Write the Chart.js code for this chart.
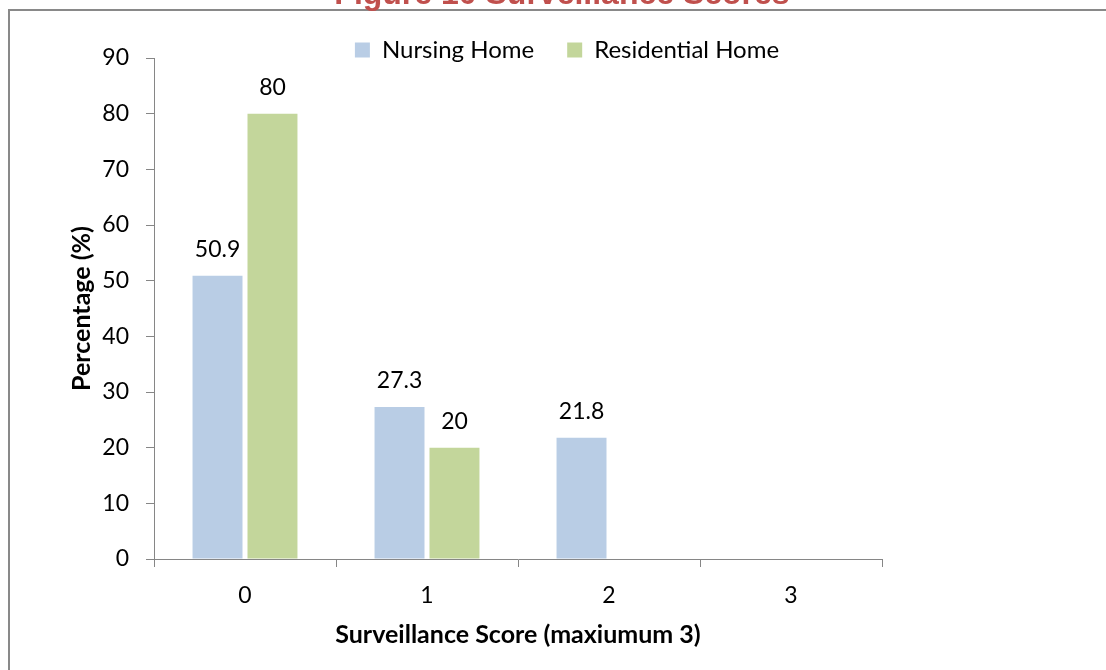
<!DOCTYPE html>
<html>
<head>
<meta charset="utf-8">
<title>Figure 10 Surveillance Scores</title>
<script src="https://cdn.jsdelivr.net/npm/chart.js@4.4.1/dist/chart.umd.min.js"></script>
<style>
  html, body { margin: 0; padding: 0; background: #fff; overflow: hidden; }
  body { width: 1106px; height: 670px; position: relative; }
  #frame {
    position: absolute; left: 8px; top: 9px; width: 1300px; height: 900px;
    border-left: 2px solid #898989; border-top: 2px solid #898989;
  }
  #wrap { position: absolute; left: 0; top: -15px; width: 1106px; height: 685px; }
</style>
</head>
<body>
<div id="frame"></div>
<div id="wrap"><canvas id="chart" width="1106" height="685"></canvas></div>
<script>
// Share of homes by surveillance score (percent)
const categories = ['0', '1', '2', '3'];
const nursingHome = [50.9, 27.3, 21.8, 0];
const residentialHome = [80, 20, 0, 0];
const yMin = 0;
const yMax = 90;
const yStep = 10;

const AXIS_GREY = '#868686';
const FONT = 'Lato';

// Writes each non-zero value above its bar
const valueLabels = {
  id: 'valueLabels',
  afterDatasetsDraw(chart) {
    const ctx = chart.ctx;
    ctx.save();
    ctx.font = '23px ' + FONT;
    ctx.fillStyle = '#000';
    ctx.textAlign = 'center';
    ctx.textBaseline = 'alphabetic';
    chart.data.datasets.forEach((ds, i) => {
      chart.getDatasetMeta(i).data.forEach((bar, j) => {
        const v = ds.data[j];
        if (!v) return;
        ctx.fillText(String(v), bar.x, bar.y - 19);
      });
    });
    ctx.restore();
  }
};

// Moves the title and legend blocks off the default centre line
const shiftBlocks = {
  id: 'shiftBlocks',
  afterLayout(chart, args, opts) {
    const move = (box, d) => {
      if (!box || !d) return;
      box.left += d.dx || 0;
      box.right += d.dx || 0;
      box.top += d.dy || 0;
      box.bottom += d.dyBottom || 0;
    };
    move(chart.titleBlock, opts.title);
    move(chart.legend, opts.legend);
  }
};

new Chart(document.getElementById('chart'), {
  type: 'bar',
  data: {
    labels: categories,
    datasets: [
      { label: 'Nursing Home', data: nursingHome, backgroundColor: '#B9CDE5', borderWidth: 0 },
      { label: 'Residential Home', data: residentialHome, backgroundColor: '#C3D69B', borderWidth: 0 }
    ]
  },
  options: {
    responsive: false,
    animation: false,
    devicePixelRatio: 1,
    categoryPercentage: 0.604,
    barPercentage: 0.909,
    layout: { padding: { left: 0, right: 224, top: 0, bottom: 0 } },
    plugins: {
      title: {
        display: true,
        text: 'Figure 10 Surveillance Scores',
        color: '#C0504D',
        font: { family: 'Liberation Sans', size: 32, weight: 'bold', lineHeight: 1 },
        padding: { top: 0, bottom: 0 }
      },
      legend: {
        display: true,
        position: 'top',
        maxHeight: 41,
        labels: {
          color: '#000',
          font: { family: FONT, size: 24 },
          boxWidth: 15,
          boxHeight: 15,
          padding: 33
        }
      },
      tooltip: { enabled: false },
      shiftBlocks: {
        title: { dx: 121, dy: -6, dyBottom: -6 },
        legend: { dx: 126, dy: -12, dyBottom: 10 }
      }
    },
    scales: {
      x: {
        grid: { offset: true, drawOnChartArea: false, drawTicks: true, tickLength: 8, color: AXIS_GREY },
        border: { color: AXIS_GREY, width: 1 },
        ticks: { color: '#000', font: { family: FONT, size: 23 }, padding: 15 },
        title: {
          display: true,
          text: 'Surveillance Score (maxiumum 3)',
          color: '#000',
          font: { family: FONT, size: 25, weight: 'bold' },
          padding: { top: 0, bottom: 20 }
        },
        afterFit(scale) { scale.height = 111; }
      },
      y: {
        min: yMin,
        max: yMax,
        grid: { drawOnChartArea: false, drawTicks: true, tickLength: 8, color: AXIS_GREY },
        border: { color: AXIS_GREY, width: 1 },
        ticks: { stepSize: yStep, color: '#000', font: { family: FONT, size: 23 }, padding: 17 },
        title: {
          display: true,
          text: 'Percentage (%)',
          color: '#000',
          font: { family: FONT, size: 25, weight: 'bold' },
          padding: { top: 67, bottom: 0 }
        },
        afterFit(scale) { scale.width = 154; }
      }
    }
  },
  plugins: [valueLabels, shiftBlocks]
});
</script>
</body>
</html>
